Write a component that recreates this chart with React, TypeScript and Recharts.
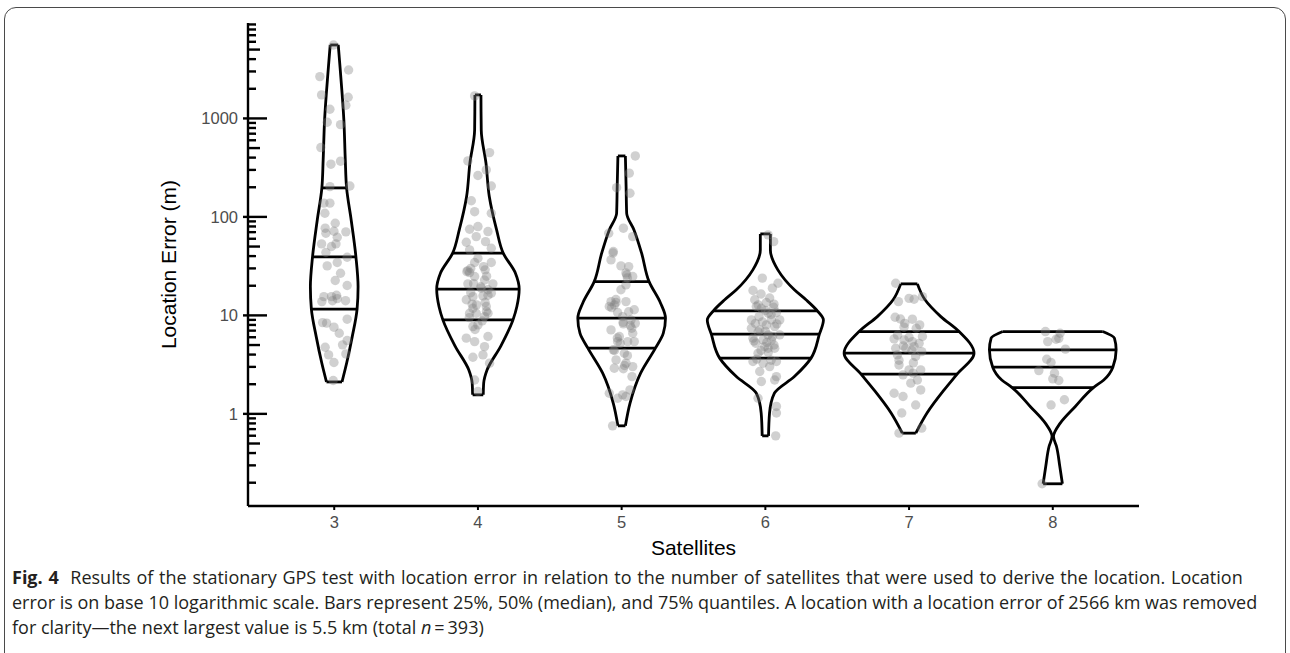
import React from "react";
import { ScatterChart, Scatter, XAxis, YAxis } from "recharts";

// number of satellites (x categories)
const SATELLITES = [3, 4, 5, 6, 7, 8];

// log tick marks: decades x mantissas, kept inside the y domain
const DECADES = [0.1, 1, 10, 100, 1000];
const MANTISSAS = [1, 2, 3, 4, 5, 6, 7, 8, 9];
const Y_DOMAIN: [number, number] = [0.116, 9310];

// violin outlines: [location error (m), half width in satellite units]
const VIOLIN_3: [number, number][] = [
  [2.11, 0.054], [3.3, 0.087], [6.05, 0.125], [11.6, 0.159], [19.5, 0.166],
  [39.3, 0.151], [93, 0.118], [197, 0.086], [379, 0.077], [966, 0.067],
  [3107, 0.042], [5570, 0.028],
];
const VIOLIN_4: [number, number][] = [
  [1.56, 0.037], [2.05, 0.04], [2.8, 0.064], [4.82, 0.157], [9.0, 0.244],
  [12.3, 0.271], [18.5, 0.287], [26.8, 0.261], [42.8, 0.176], [73.8, 0.13],
  [161, 0.079], [351, 0.056], [764, 0.023], [1733, 0.021],
];
const VIOLIN_5: [number, number][] = [
  [0.756, 0.026], [1.28, 0.058], [2.59, 0.132], [4.65, 0.235], [6.6, 0.29],
  [9.37, 0.305], [13.3, 0.271], [22.0, 0.191], [42.8, 0.139], [73.8, 0.086],
  [109, 0.035], [203, 0.031], [416, 0.026],
];
const VIOLIN_6: [number, number][] = [
  [0.598, 0.022], [1.02, 0.029], [1.62, 0.063], [2.39, 0.202], [3.68, 0.318],
  [6.44, 0.376], [9.0, 0.404], [11.1, 0.362], [14.4, 0.283], [18.2, 0.202],
  [29.0, 0.087], [46.2, 0.035], [67.2, 0.035],
];
const VIOLIN_7: [number, number][] = [
  [0.637, 0.047], [1.02, 0.125], [1.75, 0.244], [2.53, 0.334], [4.13, 0.452],
  [6.85, 0.348], [9.72, 0.221], [14.4, 0.111], [20.9, 0.058],
];
const VIOLIN_8: [number, number][] = [
  [0.195, 0.067], [0.292, 0.049], [0.466, 0.026], [0.588, 0.005], [0.805, 0.052],
  [1.19, 0.157], [1.85, 0.283], [2.21, 0.355], [2.98, 0.418], [4.47, 0.441],
  [5.87, 0.429], [6.85, 0.348],
];

// 25%, 50%, 75% quantile bars: [value, half width]
const QUANT_3: [number, number][] = [[11.6, 0.159], [39.3, 0.151], [197, 0.086]];
const QUANT_4: [number, number][] = [[9.0, 0.244], [18.5, 0.287], [42.8, 0.176]];
const QUANT_5: [number, number][] = [[4.65, 0.235], [9.37, 0.305], [22.0, 0.191]];
const QUANT_6: [number, number][] = [[3.68, 0.318], [6.44, 0.376], [11.1, 0.362]];
const QUANT_7: [number, number][] = [[2.53, 0.334], [4.13, 0.452], [6.85, 0.348]];
const QUANT_8: [number, number][] = [[1.85, 0.283], [2.98, 0.418], [4.47, 0.441]];

// jittered observations: [satellites + jitter, location error (m)]
const POINTS_3: [number, number][] = [
  [2.995, 5570], [2.9, 2660], [3.1, 3105], [2.912, 1733], [3.097, 1641], [3.081, 1361],
  [2.97, 1240], [2.951, 914], [3.044, 865], [2.907, 506], [2.977, 343], [3.044, 368],
  [2.97, 203], [3.109, 206], [2.97, 138], [2.928, 138], [2.935, 109], [3.007, 86.3],
  [2.937, 76.8], [2.942, 68.3], [2.998, 71.5], [3.021, 62.2], [3.081, 70.5], [2.912, 53.2],
  [2.981, 50.0], [3.012, 53.2], [2.942, 43.5], [3.09, 38.9], [2.951, 31.8], [3.021, 34.4],
  [3.044, 26.8], [3.007, 22.6], [3.09, 20.1], [2.928, 15.5], [2.914, 13.8], [2.981, 15.5],
  [3.016, 16.0], [3.021, 14.8], [2.988, 14.1], [3.079, 14.1], [2.919, 8.45], [2.947, 8.35],
  [2.998, 7.59], [3.035, 6.59], [3.09, 9.15], [3.058, 5.02], [3.09, 5.55], [2.937, 4.75],
  [2.961, 3.97], [2.998, 3.32], [3.081, 4.06], [2.993, 2.18],
];
const POINTS_4: [number, number][] = [
  [3.977, 1692], [4.081, 450], [3.93, 370], [4.058, 300], [4.0, 263], [4.093, 206],
  [3.954, 146], [3.977, 113], [4.093, 109], [3.942, 75], [4.0, 79.8], [4.07, 71],
  [3.988, 63.1], [3.919, 55.3], [4.053, 56.1], [3.942, 46.2], [4.093, 48.1], [3.977, 34.4],
  [3.923, 27.8], [3.942, 27.2], [4.039, 31.3], [4.093, 34.4], [3.977, 24.8], [4.046, 22.9],
  [4.104, 20.9], [3.93, 20.9], [4.023, 18.9], [3.965, 15.5], [4.07, 18.2], [3.919, 14.4],
  [4.035, 15.8], [4.093, 16.8], [3.965, 11.8], [4.058, 12.3], [3.942, 10.5], [3.988, 10.5],
  [4.07, 10.5], [4.046, 9.72], [3.965, 7.7], [4.0, 8.01], [3.919, 5.87], [4.07, 6.1],
  [3.977, 5.42], [4.046, 4.82], [3.965, 3.76], [4.035, 3.97], [4.081, 3.27], [3.977, 2.21],
  [4.0, 1.69], [4.0, 38], [3.95, 30], [3.93, 28.5], [4.05, 29], [4.06, 25], [3.97, 21],
  [4.02, 19.5], [3.95, 17], [4.07, 16], [3.96, 13], [4.05, 13.5], [3.99, 12.8], [4.06, 11],
  [3.94, 9.5], [4.03, 8.8], [3.98, 7.2],
];
const POINTS_5: [number, number][] = [
  [5.095, 416], [5.053, 278], [4.965, 198], [5.058, 174], [5.012, 76.8], [4.91, 68.3],
  [5.077, 63.1], [4.942, 44.5], [4.926, 36.6], [4.995, 31.8], [5.049, 31.3], [5.035, 25.8],
  [5.077, 24.8], [5.03, 20.4], [4.995, 18.2], [4.926, 13.8], [4.961, 13.5], [4.914, 12.3],
  [5.03, 13.8], [4.972, 10.7], [5.049, 10.9], [5.088, 11.4], [5.007, 9.72], [5.065, 9.0],
  [5.012, 8.2], [5.095, 8.3], [4.926, 7.12], [5.077, 6.59], [4.984, 6.1], [4.972, 5.42],
  [5.042, 5.42], [5.088, 5.42], [4.942, 4.47], [5.019, 4.13], [4.961, 3.53], [5.03, 3.27],
  [5.077, 3.02], [4.949, 2.91], [5.012, 2.87], [5.072, 2.39], [4.914, 1.62], [5.007, 1.56],
  [5.03, 1.5], [5.058, 1.75], [4.972, 1.44], [4.937, 0.756], [4.94, 43], [5.03, 27],
  [5.04, 24], [4.96, 14.5], [4.95, 12.8], [4.93, 12], [5.01, 8.5], [5.06, 7.9], [5.07, 7.4],
  [4.97, 5.9], [4.99, 5.2], [4.95, 4.4], [5.04, 3.9], [5.02, 3.1],
];
const POINTS_6: [number, number][] = [
  [6.019, 65.7], [6.058, 56.1], [5.979, 23.9], [6.049, 18.9], [6.088, 21.2], [5.914, 17.9],
  [5.926, 14.4], [6.007, 13.5], [5.937, 12.3], [5.972, 11.8], [6.058, 12.1], [6.077, 10.7],
  [6.019, 10.5], [6.1, 9.0], [5.903, 9.0], [5.956, 9.72], [6.042, 9.0], [6.007, 8.0],
  [5.903, 7.41], [5.961, 7.12], [6.065, 7.7], [6.1, 6.34], [6.019, 6.34], [5.914, 5.87],
  [5.984, 5.64], [6.042, 5.6], [5.933, 5.22], [5.995, 4.82], [6.019, 4.64], [6.065, 4.64],
  [5.949, 4.13], [5.914, 3.4], [5.984, 3.27], [6.077, 3.4], [6.03, 3.02], [5.961, 2.69],
  [6.065, 2.21], [5.972, 2.13], [6.077, 2.39], [5.949, 1.44], [6.077, 1.19], [6.077, 1.02],
  [6.072, 0.598], [5.97, 16.5], [6.03, 15], [6.06, 13], [5.95, 12.8], [6.0, 11.2],
  [6.04, 10.2], [5.93, 8.3], [5.98, 8.6], [6.08, 8.2], [5.95, 6.8], [6.0, 6.9], [6.05, 6.1],
  [5.92, 5.5], [6.01, 5.3], [6.06, 5.0], [5.97, 4.4], [6.02, 4.2], [5.94, 3.6], [6.04, 3.5],
];
const POINTS_7: [number, number][] = [
  [6.907, 21.2], [6.926, 13.8], [7.0, 14.9], [7.035, 14.6], [7.093, 15.5], [6.903, 9.58],
  [7.023, 9.15], [6.965, 7.59], [7.074, 8.01], [7.093, 6.1], [6.896, 5.77], [6.965, 5.64],
  [7.023, 5.42], [6.907, 4.64], [6.977, 4.64], [7.035, 4.82], [7.088, 4.29], [6.919, 3.97],
  [7.046, 3.82], [6.93, 3.14], [7.0, 2.8], [7.081, 2.8], [7.028, 2.59], [6.958, 2.49],
  [7.058, 2.21], [7.012, 2.05], [7.081, 1.75], [6.896, 1.62], [6.958, 1.5], [7.046, 1.23],
  [6.949, 1.02], [7.088, 0.716], [6.93, 0.637], [6.94, 9.2], [6.97, 8.3], [7.05, 7.4],
  [6.92, 6.3], [7.0, 6.0], [7.07, 5.2], [6.96, 4.9], [7.02, 4.4], [6.93, 3.5], [7.03, 3.3],
];
const POINTS_8: [number, number][] = [
  [7.949, 6.85], [8.051, 6.59], [7.965, 5.42], [8.023, 5.73], [8.042, 5.85], [8.088, 4.54],
  [7.958, 3.59], [7.988, 3.32], [7.903, 2.75], [8.012, 2.59], [8.0, 2.27], [8.042, 2.18],
  [8.081, 1.39], [7.988, 1.23], [7.926, 0.195],
];

const GROUPS = [
  { sat: SATELLITES[0], profile: VIOLIN_3, quant: QUANT_3, points: POINTS_3 },
  { sat: SATELLITES[1], profile: VIOLIN_4, quant: QUANT_4, points: POINTS_4 },
  { sat: SATELLITES[2], profile: VIOLIN_5, quant: QUANT_5, points: POINTS_5 },
  { sat: SATELLITES[3], profile: VIOLIN_6, quant: QUANT_6, points: POINTS_6 },
  { sat: SATELLITES[4], profile: VIOLIN_7, quant: QUANT_7, points: POINTS_7 },
  { sat: SATELLITES[5], profile: VIOLIN_8, quant: QUANT_8, points: POINTS_8 },
];

const Y_TICKS = DECADES.flatMap((d) => MANTISSAS.map((m) => d * m)).filter(
  (v) => v >= Y_DOMAIN[0] && v <= Y_DOMAIN[1]
);

const AXIS_FONT = "'Liberation Sans', Arial, sans-serif";
const LINE = { stroke: "#000", strokeWidth: 2.8, strokeLinejoin: "round" as const };
const noShape = () => null;
const dot = (p: any) => (
  <circle cx={p.cx} cy={p.cy} r={4.7} fill="#7f7f7f" fillOpacity={0.37} />
);

// right / left sides are drawn top to bottom so the curve is monotone in y
function outline(center: number, profile: [number, number][]) {
  const desc = [...profile].sort((a, b) => b[0] - a[0]);
  const [vt, wt] = desc[0];
  const [vb, wb] = desc[desc.length - 1];
  return {
    right: desc.map(([v, w]) => ({ x: center + w, y: v })),
    left: desc.map(([v, w]) => ({ x: center - w, y: v })),
    top: [{ x: center - wt, y: vt }, { x: center + wt, y: vt }],
    bottom: [{ x: center - wb, y: vb }, { x: center + wb, y: vb }],
  };
}

const LogTick = (props: any) => {
  const { x, y, payload } = props;
  const v = payload.value as number;
  const e = Math.floor(Math.log10(v) + 1e-9);
  const m = Math.round(v / Math.pow(10, e));
  if (m === 1) {
    return (
      <g>
        <line x1={x - 5} x2={x + 19} y1={y} y2={y} stroke="#000" strokeWidth={2.4} />
        <text
          x={x - 10}
          y={y}
          dy="0.36em"
          textAnchor="end"
          fill="#4d4d4d"
          fontSize={16.5}
          fontFamily={AXIS_FONT}
        >
          {String(Math.round(v))}
        </text>
      </g>
    );
  }
  const len = m === 5 ? 12 : 8;
  return <line x1={x} x2={x + len} y1={y} y2={y} stroke="#000" strokeWidth={2.4} />;
};

export default function App() {
  return (
    <div
      style={{
        position: "absolute",
        left: 0,
        top: 0,
        width: 1290,
        height: 653,
        overflow: "hidden",
        background: "#fff",
      }}
    >
      <div
        style={{
          position: "absolute",
          left: 4,
          top: 7,
          width: 1282,
          height: 680,
          border: "1.5px solid #4a4a4a",
          borderRadius: 12,
          boxSizing: "border-box",
        }}
      />
      <div style={{ position: "absolute", left: 0, top: 0 }}>
        <ScatterChart
          width={1290}
          height={560}
          margin={{ top: 23, right: 151, bottom: 0, left: 0 }}
        >
          <XAxis
            type="number"
            dataKey="x"
            domain={[2.4, 8.6]}
            ticks={SATELLITES}
            interval={0}
            allowDataOverflow
            height={54}
            axisLine={{ stroke: "#000", strokeWidth: 2.4 }}
            tickLine={{ stroke: "#000", strokeWidth: 2 }}
            tickSize={4}
            tickMargin={6}
            tick={{ fill: "#4d4d4d", fontSize: 16.5, fontFamily: AXIS_FONT }}
            label={{
              value: "Satellites",
              position: "insideBottom",
              offset: 5,
              fill: "#000",
              fontSize: 21,
              fontFamily: AXIS_FONT,
            }}
          />
          <YAxis
            type="number"
            dataKey="y"
            scale="log"
            domain={Y_DOMAIN}
            ticks={Y_TICKS}
            interval={0}
            allowDataOverflow
            width={248}
            axisLine={{ stroke: "#000", strokeWidth: 2.4 }}
            tickLine={false}
            tickSize={0}
            tickMargin={0}
            tick={(p: any) => <LogTick {...p} />}
            label={{
              value: "Location Error (m)",
              angle: -90,
              position: "insideLeft",
              offset: 0,
              dx: 169,
              fill: "#000",
              fontSize: 21,
              fontFamily: AXIS_FONT,
              style: { textAnchor: "middle" },
            }}
          />
          {GROUPS.map((g) => {
            const o = outline(g.sat, g.profile);
            return (
              <React.Fragment key={g.sat}>
                <Scatter
                  data={o.right}
                  line={LINE}
                  lineJointType="monotoneY"
                  shape={noShape}
                  isAnimationActive={false}
                />
                <Scatter
                  data={o.left}
                  line={LINE}
                  lineJointType="monotoneY"
                  shape={noShape}
                  isAnimationActive={false}
                />
                <Scatter data={o.top} line={LINE} shape={noShape} isAnimationActive={false} />
                <Scatter data={o.bottom} line={LINE} shape={noShape} isAnimationActive={false} />
                {g.quant.map(([v, w]) => (
                  <Scatter
                    key={v}
                    data={[
                      { x: g.sat - w, y: v },
                      { x: g.sat + w, y: v },
                    ]}
                    line={LINE}
                    shape={noShape}
                    isAnimationActive={false}
                  />
                ))}
                <Scatter
                  data={g.points.map(([x, y]) => ({ x, y }))}
                  shape={dot}
                  isAnimationActive={false}
                />
              </React.Fragment>
            );
          })}
        </ScatterChart>
      </div>
      <div
        style={{
          position: "absolute",
          left: 12,
          top: 565,
          fontFamily: "'Open Sans', sans-serif",
          fontSize: 18,
          lineHeight: "25px",
          color: "#231f20",
          whiteSpace: "nowrap",
        }}
      >
        <div style={{ wordSpacing: 1.1 }}>
          <b>Fig. 4</b>&nbsp; Results of the stationary GPS test with location error in relation to the
          number of satellites that were used to derive the location. Location
        </div>
        <div>
          error is on base 10 logarithmic scale. Bars represent 25%, 50% (median), and 75% quantiles. A
          location with a location error of 2566 km was removed
        </div>
        <div>
          for clarity—the next largest value is 5.5 km (total <i>n</i>&thinsp;=&thinsp;393)
        </div>
      </div>
    </div>
  );
}
